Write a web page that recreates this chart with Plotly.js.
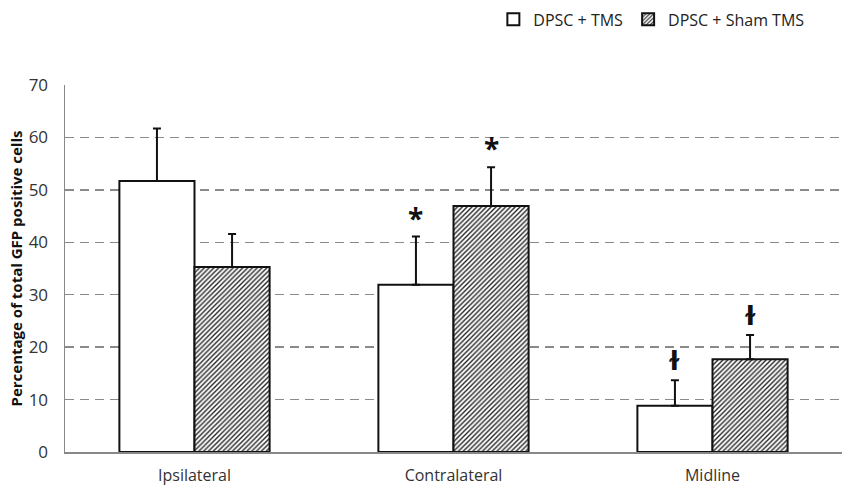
<!DOCTYPE html>
<html>
<head>
<meta charset="utf-8">
<script src="https://cdn.plot.ly/plotly-3.0.1.min.js"></script>
<style>
  html, body { margin: 0; padding: 0; background: #fff; }
  #chart { width: 850px; height: 493px; }
</style>
</head>
<body>
<div id="chart"></div>
<script>
// Data
const regions = ['Ipsilateral', 'Contralateral', 'Midline'];
const tmsMean = [51.7, 31.9, 8.8];
const tmsErr = [10.0, 9.2, 4.9];
const shamMean = [35.3, 46.9, 17.7];
const shamErr = [6.3, 7.4, 4.6];
// significance marks: [region index, series, symbol]
const marks = [
    [1, 'tms', '*'],
    [1, 'sham', '*'],
    [2, 'tms', 'ɫ'],
    [2, 'sham', 'ɫ'],
];

const FONT = '"Open Sans", "Liberation Sans", sans-serif';

const errStyle = (arr) => ({
    type: 'data', array: arr, symmetric: false, arrayminus: arr.map(() => 0),
    color: '#111', thickness: 2, width: 4,
});

const traces = [
    {
        name: 'DPSC + TMS', x: regions, y: tmsMean, type: 'bar',
        marker: { color: '#fff', line: { color: '#111', width: 2 } },
        error_y: errStyle(tmsErr),
    },
    {
        name: 'DPSC + Sham TMS', x: regions, y: shamMean, type: 'bar',
        marker: {
            color: '#fff', line: { color: '#111', width: 2 },
            pattern: { shape: '/', fgcolor: '#222', bgcolor: '#fff', size: 3.4, solidity: 0.4 },
        },
        error_y: errStyle(shamErr),
    },
];

// annotations above the error bars
const annotations = marks.map(([i, s, sym]) => {
    const top = s === 'tms' ? tmsMean[i] + tmsErr[i] : shamMean[i] + shamErr[i];
    const star = sym === '*';
    return {
        x: i + (s === 'tms' ? -0.145 : 0.145), y: top, xref: 'x', yref: 'y',
        text: '<b>' + sym + '</b>', showarrow: false, yanchor: 'bottom',
        yshift: star ? -2 : 2,
        font: { family: star ? FONT : '"DejaVu Sans", sans-serif', size: star ? 28 : 26, color: '#111' },
    };
});

const layout = {
    width: 850, height: 493,
    margin: { l: 65, r: 8, t: 85, b: 41, autoexpand: false },
    paper_bgcolor: '#fff', plot_bgcolor: '#fff',
    font: { family: FONT, color: '#333' },
    barmode: 'group', bargap: 0.42, bargroupgap: 0,
    showlegend: true,
    legend: {
        orientation: 'h', x: 0.958, xanchor: 'right', y: 1.225, yanchor: 'top',
        font: { size: 16, color: '#222' }, itemwidth: 30, traceorder: 'normal',
    },
    xaxis: {
        type: 'category', range: [-0.5, 2.5],
        showline: true, linecolor: '#888', linewidth: 1.5,
        ticks: '', tickfont: { size: 16, color: '#333' }, ticklabelstandoff: 8,
        showgrid: false, fixedrange: true,
    },
    yaxis: {
        range: [0, 70], dtick: 10,
        showline: true, linecolor: '#888', linewidth: 1.5,
        showgrid: true, gridcolor: '#8a8a8a', griddash: '9px,6px', gridwidth: 1.5,
        zeroline: false, ticks: '',
        tickfont: { size: 17, color: '#333' }, ticklabelstandoff: 12,
        title: { text: '<b>Percentage of total GFP positive cells</b>', font: { size: 15, color: '#111' }, standoff: 2 },
        fixedrange: true,
    },
    annotations,
};

Plotly.newPlot('chart', traces, layout, { displayModeBar: false, staticPlot: true });
</script>
</body>
</html>
